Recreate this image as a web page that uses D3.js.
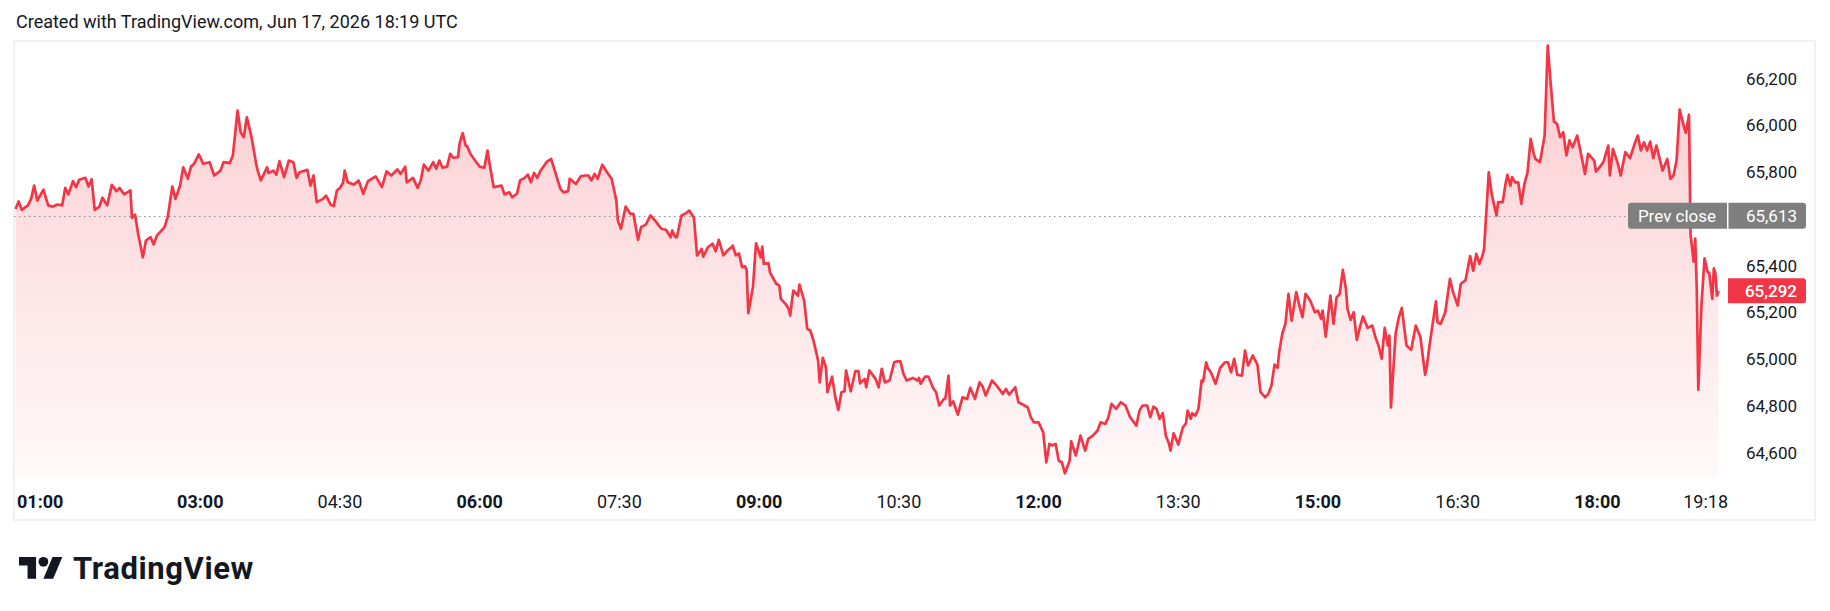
<!DOCTYPE html>
<html>
<head>
<meta charset="utf-8">
<script src="https://cdn.jsdelivr.net/npm/d3@7"></script>
<style>
  html, body { margin: 0; padding: 0; background: #fff; }
  svg { display: block; font-family: Roboto, "Liberation Sans", sans-serif; }
</style>
</head>
<body>
<svg id="chart" width="1830" height="611"></svg>
<script>
// session info
const sessionDay = '2026-06-17';
const sessionOpen = '01:00';
const sessionLast = '19:18';

// minutes after session open, and the price at that minute
const minutes = [
  1,3,5,9,11,13,15,19,22,25,28,31,33,35,38,40,42,46,48,50,52,55,57,60,63,66,68,71,75,76,78,80,83,85,88,90,92,97,99,
  102,104,107,109,112,114,116,119,122,126,129,133,135,139,141,144,146,148,150,153,156,157,159,163,164,167,169,171,174,177,180,182,184,
  189,191,193,195,199,201,204,206,208,210,212,213,215,219,222,225,228,233,237,240,243,247,249,252,253,257,260,262,264,267,270,272,274,
  276,279,281,283,286,287,289,291,292,294,297,300,303,305,306,309,314,316,319,321,324,326,329,331,333,335,337,339,343,346,349,352,354,
  357,358,362,365,368,370,372,374,376,379,382,385,388,389,391,394,397,399,402,404,407,410,413,417,420,423,424,426,427,430,433,435,438,
  440,443,444,447,450,452,454,457,460,462,463,465,467,469,471,472,473,476,478,481,482,483,486,487,491,493,494,497,499,500,502,505,506,
  509,511,513,515,518,519,521,523,524,527,529,531,533,535,536,539,542,544,545,548,549,551,555,557,559,561,564,567,569,571,573,575,579,
  582,583,584,587,589,592,594,596,599,600,602,603,605,608,611,614,616,619,622,624,626,630,633,637,639,641,645,647,651,653,655,657,660,
  663,665,667,669,671,673,675,677,680,681,684,687,690,692,695,698,700,703,705,707,710,713,716,719,723,725,727,730,732,734,736,738,740,
  742,744,745,747,750,753,755,756,758,759,761,763,765,766,768,769,771,774,777,780,782,784,786,788,791,793,795,798,801,803,806,808,810,
  812,814,815,817,819,821,823,826,828,830,832,835,838,840,842,843,845,848,850,852,854,856,858,859,861,863,865,867,869,872,875,877,879,
  881,883,885,886,887,890,892,894,895,897,900,903,906,909,910,912,916,917,919,922,925,927,930,932,935,938,940,942,944,946,947,950,952,
  955,956,959,961,962,964,965,967,969,971,973,975,977,979,980,983,986,988,990,992,994,996,998,1000,1002,1004,1007,1009,1012,1014,1018,
  1019,1022,1024,1027,1028,1030,1033,1035,1038,1041,1044,1046,1048,1050,1052,1054,1056,1058,1062,1065,1067,1069,1071,1073,1076,1077,
  1079,1080,1082,1083,1084,1085,1087,1089,1091,1092,1094,1095,1096,1097,1098
];
const prices = [
  65642,65674,65638,65657,65685,65742,65678,65724,65657,65652,65661,65657,65732,65704,65761,65735,65767,65775,65738,65769,65638,65652,65690,65657,65745,65718,65732,65704,65721,65604,65617,65535,65435,65507,65521,65490,65528,65564,65607,
  65738,65685,65742,65820,65771,65823,65835,65875,65835,65842,65785,65806,65842,65838,65871,66063,65970,65949,66034,65949,65835,65806,65764,65820,65795,65806,65789,65846,65778,65849,65842,65775,65799,
  65809,65742,65785,65671,65685,65699,65660,65654,65721,65732,65754,65806,65756,65746,65764,65707,65761,65781,65735,65803,65785,65811,65792,65823,65756,65775,65732,65764,65832,65806,65842,65814,65849,
  65818,65823,65878,65861,65863,65921,65966,65913,65909,65878,65849,65823,65818,65892,65849,65735,65742,65704,65713,65692,65707,65764,65775,65789,65756,65796,65775,65803,65842,65856,65792,65728,65713,
  65718,65771,65749,65781,65785,65785,65764,65792,65771,65831,65799,65771,65678,65592,65557,65652,65621,65621,65510,65564,65575,65614,65592,65557,65553,65521,65550,65521,65521,65614,65624,65635,65604,
  65443,65471,65438,65478,65493,65461,65510,65443,65467,65476,65485,65443,65452,65393,65396,65378,65196,65307,65495,65435,65481,65407,65410,65371,65322,65314,65257,65236,65215,65186,65293,65271,65318,
  65250,65129,65122,65079,64993,64900,65005,64965,64858,64925,64839,64782,64858,64862,64951,64862,64948,64948,64896,64915,64879,64951,64915,64879,64958,64900,64908,64986,64990,64990,64936,64908,64919,
  64908,64919,64894,64925,64925,64877,64858,64801,64829,64831,64929,64801,64819,64762,64836,64829,64877,64829,64900,64882,64844,64908,64886,64851,64872,64848,64879,64815,64801,64793,64751,64729,64729,
  64686,64558,64637,64630,64637,64565,64558,64511,64565,64648,64587,64672,64608,64658,64672,64694,64729,64722,64751,64808,64787,64815,64801,64751,64715,64779,64801,64801,64751,64796,64787,64744,64768,
  64672,64639,64608,64682,64634,64708,64725,64779,64744,64768,64758,64787,64908,64904,64986,64962,64943,64894,64962,64986,64986,64943,65001,64933,64929,65036,64972,65015,64976,64858,64836,64851,64886,
  64976,64962,65029,65108,65150,65279,65164,65286,65229,65179,65279,65250,65200,65207,65172,65207,65096,65271,65150,65264,65279,65381,65300,65214,65167,65200,65082,65136,65182,65133,65143,65093,65058,
  65001,65133,65058,65100,64793,65108,65176,65219,65164,65058,65039,65143,65093,64933,64963,65065,65247,65157,65150,65200,65343,65286,65229,65322,65336,65440,65378,65450,65407,65443,65471,65799,65702,
  65614,65671,65671,65756,65788,65742,65778,65756,65756,65664,65749,65799,65942,65878,65856,65842,65956,66341,66170,66016,66006,65949,65970,65871,65935,65906,65956,65892,65792,65878,65849,
  65802,65825,65845,65913,65785,65899,65839,65785,65885,65859,65921,65956,65892,65927,65892,65930,65859,65913,65806,65856,65771,65785,65849,66067,65987,65968,
  66045,65531,65417,65515,65300,64869,65229,65431,65371,65370,65257,65388,65366,65271,65292
];

const prevClose = 65613;
const lastPrice = 65292;

// axis ticks
const priceTicks = [64600, 64800, 65000, 65200, 65400, 65800, 66000, 66200];
const timeTicks = ['01:00','03:00','04:30','06:00','07:30','09:00','10:30','12:00','13:30','15:00','16:30','18:00','19:18'];
const timeTickBold = [true, true, false, true, false, true, false, true, false, true, false, true, false];

const headerText = 'Created with TradingView.com, Jun 17, 2026 18:19 UTC';

// ---- layout
const frame = { left: 14, top: 41, right: 1815, bottom: 520 };
const plot = { left: 14, top: 41, right: 1728, bottom: 478 };
const lineColor = '#f23645';
const textColor = '#131722';

const svg = d3.select('#chart');
const parseTime = d3.utcParse('%Y-%m-%d %H:%M');
const openDate = parseTime(`${sessionDay} ${sessionOpen}`);
const lastDate = parseTime(`${sessionDay} ${sessionLast}`);
const data = minutes.map((m, i) => ({ date: d3.utcMinute.offset(openDate, m), price: prices[i] }));

const x = d3.scaleUtc().domain([openDate, lastDate]).range([14, 1718.5]);
const y = d3.scaleLinear().domain([64600, 66200]).range([452.5, 78.5]);
const fmt = d3.format(',');

// header
svg.append('text')
  .attr('x', 16).attr('y', 21)
  .attr('dominant-baseline', 'central')
  .attr('font-size', 18)
  .attr('fill', textColor)
  .text(headerText);

// frame
svg.append('rect')
  .attr('x', frame.left).attr('y', frame.top)
  .attr('width', frame.right - frame.left)
  .attr('height', frame.bottom - frame.top)
  .attr('fill', 'none')
  .attr('stroke', '#eff1f4')
  .attr('stroke-width', 2);

// gradient fill
const defs = svg.append('defs');
const grad = defs.append('linearGradient')
  .attr('id', 'areaFill')
  .attr('gradientUnits', 'userSpaceOnUse')
  .attr('x1', 0).attr('x2', 0)
  .attr('y1', plot.top).attr('y2', plot.bottom);
grad.append('stop').attr('offset', 0).attr('stop-color', lineColor).attr('stop-opacity', 0.26);
grad.append('stop').attr('offset', 1).attr('stop-color', lineColor).attr('stop-opacity', 0.03);

defs.append('clipPath').attr('id', 'plotClip')
  .append('rect')
  .attr('x', plot.left).attr('y', plot.top)
  .attr('width', plot.right - plot.left).attr('height', plot.bottom - plot.top);

const g = svg.append('g').attr('clip-path', 'url(#plotClip)');

g.append('path')
  .datum(data)
  .attr('fill', 'url(#areaFill)')
  .attr('d', d3.area().x(d => x(d.date)).y0(plot.bottom).y1(d => y(d.price)));

// prev close dotted line
g.append('line')
  .attr('x1', plot.left).attr('x2', 1628)
  .attr('y1', Math.round(y(prevClose)) + 0.5).attr('y2', Math.round(y(prevClose)) + 0.5)
  .attr('stroke', '#8a8d96')
  .attr('stroke-width', 1)
  .attr('stroke-dasharray', '1.5,3.5');

g.append('path')
  .datum(data)
  .attr('fill', 'none')
  .attr('stroke', lineColor)
  .attr('stroke-width', 2.7)
  .attr('stroke-linejoin', 'round')
  .attr('d', d3.line().x(d => x(d.date)).y(d => y(d.price)));

// y axis labels
svg.append('g')
  .selectAll('text')
  .data(priceTicks)
  .join('text')
  .attr('x', 1797)
  .attr('y', d => y(d))
  .attr('text-anchor', 'end')
  .attr('dominant-baseline', 'central')
  .attr('font-size', 17)
  .attr('fill', textColor)
  .text(d => fmt(d));

// x axis labels, edge ones kept inside the pane
const xLabels = svg.append('g');
timeTicks.forEach((t, i) => {
  const txt = xLabels.append('text')
    .attr('y', 501)
    .attr('dominant-baseline', 'central')
    .attr('font-size', 18)
    .attr('font-weight', timeTickBold[i] ? 700 : 400)
    .attr('fill', textColor)
    .text(t);
  const w = txt.node().getComputedTextLength();
  let cx = x(parseTime(`${sessionDay} ${t}`));
  cx = Math.max(plot.left + 3 + w / 2, Math.min(plot.right - w / 2, cx));
  txt.attr('x', cx).attr('text-anchor', 'middle');
});

// prev close badge
const pcY = y(prevClose);
const badgeGray = '#7f7f7f';
svg.append('path')
  .attr('fill', badgeGray)
  .attr('d', `M1631,${pcY - 13}H1727V${pcY + 13}H1631Q1628,${pcY + 13} 1628,${pcY + 10}V${pcY - 10}Q1628,${pcY - 13} 1631,${pcY - 13}Z`);
svg.append('path')
  .attr('fill', badgeGray)
  .attr('d', `M1728.5,${pcY - 13}H1803Q1806,${pcY - 13} 1806,${pcY - 10}V${pcY + 10}Q1806,${pcY + 13} 1803,${pcY + 13}H1728.5Z`);
svg.append('text')
  .attr('x', 1677).attr('y', pcY)
  .attr('text-anchor', 'middle').attr('dominant-baseline', 'central')
  .attr('font-size', 17).attr('fill', '#fff')
  .text('Prev close');
svg.append('text')
  .attr('x', 1797).attr('y', pcY)
  .attr('text-anchor', 'end').attr('dominant-baseline', 'central')
  .attr('font-size', 17).attr('fill', '#fff')
  .text(fmt(prevClose));

// last price badge
const lpY = y(lastPrice);
svg.append('path')
  .attr('fill', lineColor)
  .attr('d', `M1728,${lpY - 12.5}H1803Q1806,${lpY - 12.5} 1806,${lpY - 9.5}V${lpY + 9.5}Q1806,${lpY + 12.5} 1803,${lpY + 12.5}H1728Z`);
svg.append('text')
  .attr('x', 1797).attr('y', lpY)
  .attr('text-anchor', 'end').attr('dominant-baseline', 'central')
  .attr('font-size', 17).attr('font-weight', 500).attr('fill', '#fff')
  .text(fmt(lastPrice));

// TradingView logo
const logo = svg.append('g').attr('transform', 'translate(19,552) scale(1.22)');
logo.append('path')
  .attr('fill', textColor)
  .attr('d', 'M14 22H7V11H0V4h14v18zM28 22h-8l7.5-18h8L28 22z');
logo.append('circle').attr('cx', 20).attr('cy', 8).attr('r', 4).attr('fill', textColor);
svg.append('text')
  .attr('x', 73).attr('y', 579)
  .attr('font-size', 31)
  .attr('font-weight', 700)
  .attr('letter-spacing', 0.6)
  .attr('fill', textColor)
  .text('TradingView');
</script>
</body>
</html>
